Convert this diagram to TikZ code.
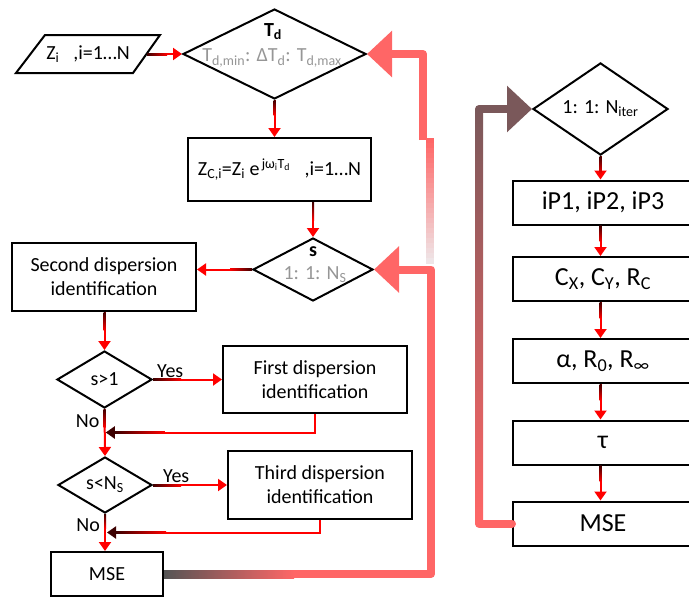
\documentclass[tikz,border=0pt]{standalone}
\usepackage{fontspec}
\setmainfont{Carlito}
\usetikzlibrary{shapes.geometric,arrows.meta,calc}
\definecolor{fb}{RGB}{255,102,102}
\definecolor{dk}{RGB}{60,0,0}
\definecolor{lg}{RGB}{150,150,150}
\definecolor{br}{RGB}{122,88,90}
\definecolor{dg}{RGB}{85,85,85}
\definecolor{fadeend}{RGB}{238,234,236}
\newcommand\sbs[1]{\textsubscript{#1}}
\newcommand\sps[1]{\textsuperscript{#1}}
\begin{document}
\begin{tikzpicture}[x=1pt,y=-1pt,
  box/.style={draw,line width=2pt,rectangle,inner sep=0pt,align=center,font=\fontsize{20}{24}\selectfont},
  rbox/.style={box,minimum width=180,minimum height=44,font=\fontsize{26}{30}\selectfont},
  dia/.style={draw,line width=2pt,diamond,inner sep=0pt,font=\fontsize{20}{24}\selectfont},
  lbl/.style={font=\fontsize{20}{24}\selectfont,inner sep=0pt},
  conn/.style={draw=red,line width=2pt,-{Triangle[length=9pt,width=12pt]}},
  dconn/.style={draw=red,line width=2pt,-{Triangle[length=9pt,width=12pt,color=dk,fill=dk]}},
  fbline/.style={draw=fb,line width=8pt,line join=round},
  big/.style={-{Triangle[length=25pt,width=45pt]}}
]
\useasboundingbox (0,0) rectangle (689,597);

% ---------- left column nodes ----------
\node[lbl,minimum width=118,minimum height=38] (zin) at (88,54) {Z\sbs{i}\hspace{14pt},i=1…N};
\draw[line width=2pt] ($(zin.center)+(-72,19)$) -- ($(zin.center)+(-43,-19)$) -- ($(zin.center)+(72,-19)$) -- ($(zin.center)+(45,19)$) -- cycle;

\node[dia,minimum width=183,minimum height=90] (td) at (274.5,54) {};
\node[lbl,font=\bfseries\fontsize{20}{24}\selectfont] (tdh) at (273,32) {T\sbs{d}};
\node[lbl,text=lg] (tdr) at (272,58) {T\sbs{d,min}: ΔT\sbs{d}: T\sbs{d,max}};

\node[box,minimum width=183,minimum height=63] (zc) at (279.5,169.5) {Z\sbs{C,i}=Z\sbs{i} e\sps{\,jω\sbs{i}T\sbs{d}}\hspace{14pt},i=1…N};

\node[dia,minimum width=120,minimum height=63] (s) at (313,269.5) {};
\node[lbl,font=\bfseries\fontsize{20}{24}\selectfont] (sh) at (313,252) {s};
\node[lbl,text=lg] (sr) at (315,275) {1: 1: N\sbs{S}};

\node[box,minimum width=184,minimum height=68] (sec) at (104,277) {Second dispersion\\identification};
\node[dia,minimum width=95,minimum height=57] (d1) at (104.5,379.5) {s>1};
\node[box,minimum width=184,minimum height=67] (first) at (315,379.5) {First dispersion\\identification};
\node[dia,minimum width=94,minimum height=56] (d2) at (105,485) {s<N\sbs{S}};
\node[box,minimum width=184,minimum height=68] (third) at (320,485) {Third dispersion\\identification};
\node[box,minimum width=112,minimum height=44] (mse1) at (107,574) {MSE};

% ---------- right column nodes ----------
\node[dia,minimum width=135,minimum height=68] (dn) at (600.5,109) {1: 1: N\sbs{iter}};
\node[rbox] (ip) at (603,202.5) {iP1, iP2, iP3};
\node[rbox] (cc) at (603,279) {C\sbs{X}, C\sbs{Y}, R\sbs{C}};
\node[rbox] (al) at (603,361) {α, R\sbs{0}, R\sbs{∞}};
\node[rbox] (tau) at (603,442.5) {τ};
\node[rbox] (mse2) at (603,523.5) {MSE};

% ---------- thick feedback lines ----------
\draw[fbline,big] (mse1.east) -| ($(s.east)+(57,0)$) -- (s.east);
\shade[left color=dg,right color=fb] ($(mse1.east)+(0,-4)$) rectangle ($(mse1.east)+(130,4)$);
% fading upper part of the vertical line
\foreach \k in {0,...,24}{
  \pgfmathtruncatemacro\pc{100-4*\k}
  \draw[line width=8pt,draw=fb!\pc!fadeend] (430,{138+5*\k}) -- (430,{144+5*\k});
}
\draw[fbline,big] ($(td.east)+(56,86)$) -- ($(td.east)+(56,0)$) -- (td.east);

\shade[top color=br,bottom color=fb] ($(dn.west)+(-57,0)$) rectangle ($(dn.west)+(-49,414.5)$);
\draw[draw=fb,line width=8pt,line cap=round] (mse2.west) -- ($(dn.west)+(-53,414.5)$);
\draw[draw=br,line width=8pt,line cap=round,big] ($(dn.west)+(-53,0)$) -- (dn.west);

% ---------- merge connectors ----------
\draw[dconn] (first.south) |- ($(d1.south)!0.5!(d2.north)+(1,0)$);
\shade[left color=dk,right color=red] ($(d1.south)!0.5!(d2.north)+(10,-1)$) rectangle ($(d1.south)!0.5!(d2.north)+(60,1)$);
\draw[dconn] (third.south) |- ($(d2.south)!0.5!(mse1.north)+(1,0)$);
\shade[left color=dk,right color=red] ($(d2.south)!0.5!(mse1.north)+(10,-1)$) rectangle ($(d2.south)!0.5!(mse1.north)+(60,1)$);

% ---------- thin connectors ----------
\draw[conn] (zin.east) -- (td.west);
\draw[conn] (td.south) -- (td.south |- zc.north);
\draw[conn] (s.north |- zc.south) -- (s.north);
\draw[conn] (s.west) -- (s.west -| sec.east);
\draw[conn] (sec.south -| d1.north) -- (d1.north);
\draw[conn] (d1.east) -- (d1.east -| first.west);
\draw[conn] (d1.south) -- (d2.north);
\draw[conn] (d2.east) -- (d2.east -| third.west);
\draw[conn] (d2.south) -- (d2.south |- mse1.north);
\draw[conn] (dn.south) -- (dn.south |- ip.north);
\draw[conn] (dn.south |- ip.south) -- (dn.south |- cc.north);
\draw[conn] (dn.south |- cc.south) -- (dn.south |- al.north);
\draw[conn] (dn.south |- al.south) -- (dn.south |- tau.north);
\draw[conn] (dn.south |- tau.south) -- (dn.south |- mse2.north);

% gradient starts (dark at source)
\shade[left color=dk,right color=red] ($(zin.east)+(0,-1)$) rectangle ($(zin.east)+(20,1)$);
\shade[left color=red,right color=dk] ($(s.west)+(-22,-1)$) rectangle ($(s.west)+(0,1)$);
\shade[left color=dk,right color=red] ($(d1.east)+(0,-1)$) rectangle ($(d1.east)+(28,1)$);
\shade[left color=dk,right color=red] ($(d2.east)+(0,-1)$) rectangle ($(d2.east)+(28,1)$);
\shade[top color=dk,bottom color=red] ($(td.south)+(-1,0)$) rectangle ($(td.south)+(1,15)$);
\shade[top color=dk,bottom color=red] ($(s.north |- zc.south)+(-1,0)$) rectangle ($(s.north |- zc.south)+(1,18)$);
\shade[top color=dk,bottom color=red] ($(sec.south -| d1.north)+(-1,0)$) rectangle ($(sec.south -| d1.north)+(1,18)$);
\shade[top color=dk,bottom color=red] ($(d1.south)+(-1,0)$) rectangle ($(d1.south)+(1,18)$);
\shade[top color=dk,bottom color=red] ($(d2.south)+(-1,0)$) rectangle ($(d2.south)+(1,14)$);
\shade[top color=dk,bottom color=red] ($(dn.south)+(-1,0)$) rectangle ($(dn.south)+(1,18)$);
\shade[top color=dk,bottom color=red] ($(dn.south |- ip.south)+(-1,0)$) rectangle ($(dn.south |- ip.south)+(1,16)$);
\shade[top color=dk,bottom color=red] ($(dn.south |- cc.south)+(-1,0)$) rectangle ($(dn.south |- cc.south)+(1,16)$);
\shade[top color=dk,bottom color=red] ($(dn.south |- al.south)+(-1,0)$) rectangle ($(dn.south |- al.south)+(1,16)$);
\shade[top color=dk,bottom color=red] ($(dn.south |- tau.south)+(-1,0)$) rectangle ($(dn.south |- tau.south)+(1,16)$);

% ---------- labels ----------
\node[lbl,anchor=south west] (y1) at ($(d1.east)+(4,-2)$) {Yes};
\node[lbl,anchor=north east] (n1) at ($(d1.south)+(-5,5)$) {No};
\node[lbl,anchor=south west] (y2) at ($(d2.east)+(10,-2)$) {Yes};
\node[lbl,anchor=north east] (n2) at ($(d2.south)+(-5,4)$) {No};
\end{tikzpicture}
\end{document}
